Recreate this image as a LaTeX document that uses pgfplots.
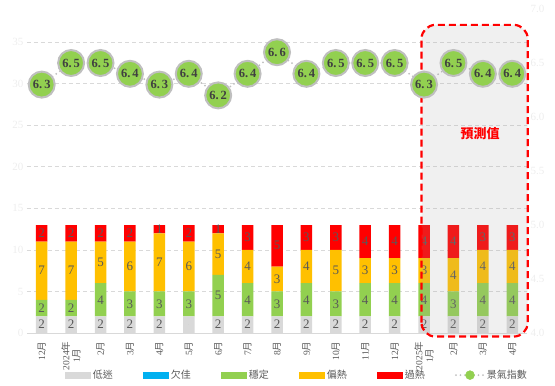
\documentclass[border=0pt]{standalone}
\usepackage{fontspec}
\setmainfont{Liberation Serif}
\newfontfamily\cjk{Noto Sans CJK TC}
\usepackage{pgfplots}
\pgfplotsset{compat=1.18}
\usepackage{pgfplotstable}
\definecolor{cLow}{HTML}{D9D9D9}
\definecolor{cPoor}{HTML}{00B0F0}
\definecolor{cStable}{HTML}{92D050}
\definecolor{cWarm}{HTML}{FFC000}
\definecolor{cHot}{HTML}{FF0000}
\definecolor{cGrid}{HTML}{D9D9D9}
\definecolor{cLab}{HTML}{595959}
\definecolor{cNum}{HTML}{404040}
\definecolor{cTick}{HTML}{EDEDED}
\definecolor{cLine}{HTML}{BFBFBF}
\definecolor{cOver}{HTML}{A6A6A6}
\pgfplotstableread{
x low poor stable warm hot idx lowlab
0 2 0 2 7 2 6.3 2
1 2 0 2 7 2 6.5 2
2 2 0 4 5 2 6.5 2
3 2 0 3 6 2 6.4 2
4 2 0 3 7 1 6.3 2
5 2 0 3 6 2 6.4 {}
6 2 0 5 5 1 6.2 2
7 2 0 4 4 3 6.4 2
8 2 0 3 3 5 6.6 2
9 2 0 4 4 3 6.4 2
10 2 0 3 5 3 6.5 2
11 2 0 4 3 4 6.5 2
12 2 0 4 3 4 6.5 2
13 2 0 4 3 4 6.3 2
14 2 0 3 4 4 6.5 2
15 2 0 4 4 3 6.4 2
16 2 0 4 4 3 6.4 2
}\data
\newcommand{\yue}{{\cjk 月}}
\newcommand{\nian}{{\cjk 年}}
\pgfplotsset{
  seglab/.style={
    only marks, mark=*, mark size=0pt,
    point meta=explicit symbolic,
    nodes near coords,
    every node near coord/.append style={anchor=center,
      font=\fontsize{13}{13}\selectfont, text=cLab},
  },
  common/.style={
    scale only axis, width=500pt, height=324pt,
    xmin=-0.5, xmax=16.5, clip=false,
  },
}
\begin{document}
\begin{tikzpicture}
\useasboundingbox (-27pt,-53pt) rectangle (528pt,333pt);
% bars
\begin{axis}[
  common, ymin=0, ymax=39,
  ybar stacked, bar width=11.5pt,
  axis x line*=bottom, axis y line*=left,
  x axis line style={-, draw=cGrid, line width=1pt},
  y axis line style={draw=none},
  major tick length=0pt, tick style={draw=none},
  xtick={0,...,16},
  xticklabels={12\yue, {2024\nian\\1\yue}, 2\yue, 3\yue, 4\yue, 5\yue, 6\yue, 7\yue, 8\yue, 9\yue, 10\yue, 11\yue, 12\yue, {2025\nian\\1\yue}, 2\yue, 3\yue, 4\yue},
  xticklabel style={rotate=90, anchor=east, align=center, font=\fontsize{9.5}{10.5}\selectfont, text=cLab},
  xticklabel shift=5pt,
  ytick={0,5,...,35},
  yticklabel style={font=\fontsize{11}{11}\selectfont, text=cTick},
  ymajorgrids, grid style={cGrid, line width=0.8pt, dash pattern=on 4pt off 3pt},
  /pgf/number format/assume math mode=true,
  legend columns=6,
  legend style={at={(0.54,-0.13)}, anchor=center, draw=none, fill=none,
    font=\cjk\fontsize{10}{10}\selectfont, text=cLab,
    /tikz/every even column/.append style={column sep=28pt}},
  legend cell align=left,
  legend image code/.code={\fill[#1] (0pt,-3.5pt) rectangle (26pt,3.5pt);},
]
\addplot[fill=cLow, draw=none] table[x=x, y=low]{\data};
\addlegendentry{低迷}
\addplot[fill=cPoor, draw=none] table[x=x, y=poor]{\data};
\addlegendentry{欠佳}
\addplot[fill=cStable, draw=none] table[x=x, y=stable]{\data};
\addlegendentry{穩定}
\addplot[fill=cWarm, draw=none] table[x=x, y=warm]{\data};
\addlegendentry{偏熱}
\addplot[fill=cHot, draw=none] table[x=x, y=hot]{\data};
\addlegendentry{過熱}
\addlegendimage{legend image code/.code={\draw[cLine, line width=2pt, line cap=round, dash pattern=on 0pt off 4.5pt] (0pt,0pt)--(28pt,0pt); \fill[cStable] (14pt,0pt) circle (4.5pt);}}
\addlegendentry{景氣指數}
\end{axis}
% segment labels
\begin{axis}[common, ymin=0, ymax=39, hide axis]
\addplot[seglab] table[x=x, y expr={\thisrow{low}/2}, meta=lowlab]{\data};
\addplot[seglab] table[x=x, y expr={\thisrow{low}+\thisrow{poor}+\thisrow{stable}/2}, meta=stable]{\data};
\addplot[seglab] table[x=x, y expr={\thisrow{low}+\thisrow{poor}+\thisrow{stable}+\thisrow{warm}/2}, meta=warm]{\data};
\addplot[seglab] table[x=x, y expr={\thisrow{low}+\thisrow{poor}+\thisrow{stable}+\thisrow{warm}+\thisrow{hot}/2}, meta=hot]{\data};
\end{axis}
% index line
\begin{axis}[
  common, ymin=4, ymax=7,
  hide x axis,
  axis y line*=right, y axis line style={draw=none},
  major tick length=0pt, tick style={draw=none},
  ytick={4,4.5,...,7},
  yticklabel style={font=\fontsize{11}{11}\selectfont, text=cTick,
    /pgf/number format/fixed, /pgf/number format/precision=1,
    /pgf/number format/fixed zerofill},
  /pgf/number format/assume math mode=true,
]
\addplot[color=cLine, line width=2pt, line cap=round, dash pattern=on 0pt off 4.5pt,
  mark=*, mark size=13pt, mark options={solid, fill=cStable, draw=none},
  nodes near coords={\pgfmathprintnumber[fixed,precision=1,fixed zerofill,assume math mode=true,dec sep={.\hspace{2pt}}]{\pgfplotspointmeta}},
  every node near coord/.append style={anchor=center, font=\bfseries\fontsize{12.5}{12.5}\selectfont, text=cNum},
] table[x=x, y=idx]{\data};
\fill[cOver, fill opacity=0.17, rounded corners=14pt] (rel axis cs:0.789,-0.011) rectangle (rel axis cs:1.0014,0.951);
\draw[cHot, line width=2.2pt, dash pattern=on 7pt off 4pt, rounded corners=14pt] (rel axis cs:0.789,-0.011) rectangle (rel axis cs:1.0014,0.951);
\node[text=cHot, font=\cjk\bfseries\fontsize{13}{13}\selectfont] at (rel axis cs:0.906,0.617) {預測值};
\end{axis}
\end{tikzpicture}
\end{document}
